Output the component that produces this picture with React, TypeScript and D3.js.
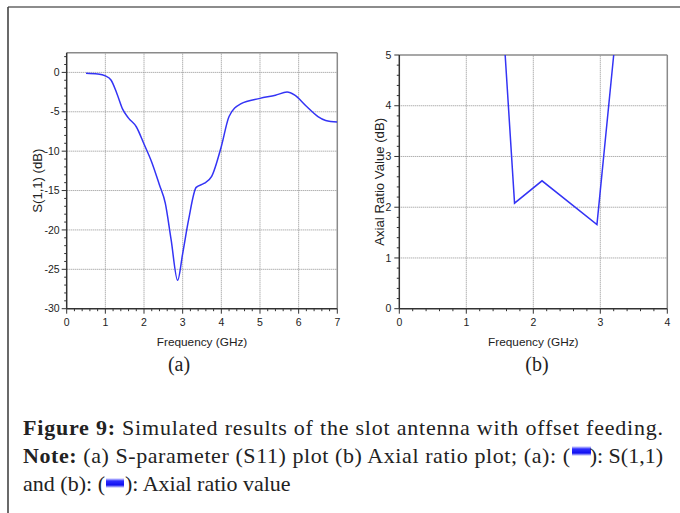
import React from "react";
import * as d3 from "d3";

// ---- Data ----
const s11Freq = [0.5, 0.8, 1.0, 1.15, 1.3, 1.45, 1.6, 1.8, 2.0, 2.2, 2.4, 2.55, 2.7, 2.87, 3.0, 3.15, 3.35, 3.55, 3.75, 4.0, 4.2, 4.5, 5.0, 5.4, 5.7, 5.9, 6.2, 6.5, 6.7, 7.0];
const s11Db = [-0.1, -0.2, -0.45, -1.0, -2.7, -4.7, -5.8, -6.9, -9.1, -11.4, -14.3, -16.6, -21.2, -26.4, -23.0, -18.8, -14.6, -14.1, -13.2, -9.4, -5.6, -4.0, -3.3, -2.9, -2.5, -2.9, -4.3, -5.6, -6.1, -6.3];

const arFreq = [1.58, 1.72, 2.13, 2.95, 3.2];
const arVal = [5.0, 2.08, 2.52, 1.66, 5.0];

const s11XTicks = [0, 1, 2, 3, 4, 5, 6, 7];
const s11YTicks = [-30, -25, -20, -15, -10, -5, 0];
const arXTicks = [0, 1, 2, 3, 4];
const arYTicks = [0, 1, 2, 3, 4, 5];

const LINE = "#3434f5";
const FONT = "'Liberation Sans', Arial, sans-serif";
const SERIF = "'Liberation Serif', 'Times New Roman', serif";

type PanelProps = {
  id: string;
  x: d3.ScaleLinear<number, number>;
  y: d3.ScaleLinear<number, number>;
  xTicks: number[];
  yTicks: number[];
  xMinor: number[];
  yMinor: number[];
  path: string;
  yTitle: string;
  yTitleX: number;
  yTitleLen: number;
  yLabelGap: number;
};

function Panel({ id, x, y, xTicks, yTicks, xMinor, yMinor, path, yTitle, yTitleX, yTitleLen, yLabelGap }: PanelProps) {
  const [x0, x1] = x.range();
  const [y0, y1] = y.range();
  const midX = (x0 + x1) / 2;
  const midY = (y0 + y1) / 2;
  return (
    <g>
      <defs>
        <clipPath id={id}>
          <rect x={x0} y={y1} width={x1 - x0} height={y0 - y1} />
        </clipPath>
      </defs>
      {xTicks.filter((t) => t !== x.domain()[0] && t !== x.domain()[1]).map((t) => (
        <line key={"gx" + t} x1={x(t)} x2={x(t)} y1={y0} y2={y1} stroke="#8f8f8f" strokeWidth={1} strokeDasharray="1,1" />
      ))}
      {yTicks.filter((t) => t !== y.domain()[0] && t !== y.domain()[1]).map((t) => (
        <line key={"gy" + t} x1={x0} x2={x1} y1={y(t)} y2={y(t)} stroke="#8f8f8f" strokeWidth={1} strokeDasharray="1,1" />
      ))}
      <line x1={x0} x2={x1} y1={y1} y2={y1} stroke="#8a8a8a" strokeWidth={1.5} />
      <line x1={x1} x2={x1} y1={y1} y2={y0} stroke="#8a8a8a" strokeWidth={1.5} />
      <path d={path} fill="none" stroke={LINE} strokeWidth={1.5} clipPath={`url(#${id})`} />
      <line x1={x0} x2={x1} y1={y0} y2={y0} stroke="#333" strokeWidth={1.5} />
      <line x1={x0} x2={x0} y1={y0} y2={y1} stroke="#333" strokeWidth={1.5} />
      {xMinor.map((t) => (
        <line key={"mx" + t} x1={x(t)} x2={x(t)} y1={y0} y2={y0 + 2.5} stroke="#333" strokeWidth={1} />
      ))}
      {yMinor.map((t) => (
        <line key={"my" + t} x1={x0} x2={x0 - 2.5} y1={y(t)} y2={y(t)} stroke="#333" strokeWidth={1} />
      ))}
      {xTicks.map((t) => (
        <g key={"tx" + t}>
          <line x1={x(t)} x2={x(t)} y1={y0} y2={y0 + 5} stroke="#333" strokeWidth={1} />
          <text x={x(t)} y={y0 + 17.5} textAnchor="middle" fontFamily={FONT} fontSize={10.5} fill="#222">{t}</text>
        </g>
      ))}
      {yTicks.map((t) => (
        <g key={"ty" + t}>
          <line x1={x0} x2={x0 - 5} y1={y(t)} y2={y(t)} stroke="#333" strokeWidth={1} />
          <text x={x0 - yLabelGap} y={y(t)} dy="0.35em" textAnchor="end" fontFamily={FONT} fontSize={10.5} fill="#222">{t}</text>
        </g>
      ))}
      <text x={midX} y={y0 + 37} textAnchor="middle" fontFamily={FONT} fontSize={11.8} fill="#222">Frequency (GHz)</text>
      <text transform={`translate(${yTitleX},${midY}) rotate(-90)`} textAnchor="middle" dy="0.35em" fontFamily={FONT} fontSize={12.5}
        fill="#222" textLength={yTitleLen} lengthAdjust="spacingAndGlyphs">{yTitle}</text>
    </g>
  );
}

export default function App() {
  const xa = d3.scaleLinear().domain([0, 7]).range([66.7, 337.3]);
  const ya = d3.scaleLinear().domain([-30, 2.5]).range([308.7, 52.7]);
  const xb = d3.scaleLinear().domain([0, 4]).range([399.3, 667.3]);
  const yb = d3.scaleLinear().domain([0, 5]).range([308.7, 55]);

  const lineA = d3.line<number>().x((_, i) => xa(s11Freq[i])).y((d) => ya(d)).curve(d3.curveMonotoneX);
  const lineB = d3.line<number>().x((_, i) => xb(arFreq[i])).y((d) => yb(d));

  const xMinorA = d3.range(0, 7.001, 0.2).map((v) => +v.toFixed(2)).filter((v) => Math.abs(v - Math.round(v)) > 1e-6);
  const yMinorA = d3.range(-30, 2.5, 1).filter((v) => v % 5 !== 0);
  const xMinorB = d3.range(0, 4.001, 0.2).map((v) => +v.toFixed(2)).filter((v) => Math.abs(v - Math.round(v)) > 1e-6);
  const yMinorB = d3.range(0, 5.001, 0.2).map((v) => +v.toFixed(2)).filter((v) => Math.abs(v - Math.round(v)) > 1e-6);

  return (
    <svg width={680} height={513} style={{ position: "absolute", left: 0, top: 0, background: "#fff" }}>
      <rect x={0} y={0} width={680} height={513} fill="#fff" />
      <line x1={8} x2={680} y1={7} y2={7} stroke="#666" strokeWidth={1.6} />
      <line x1={8} x2={8} y1={7} y2={513} stroke="#444" strokeWidth={1.6} />

      <Panel id="clipA" x={xa} y={ya} xTicks={s11XTicks} yTicks={s11YTicks} xMinor={xMinorA} yMinor={yMinorA}
        path={lineA(s11Db) || ""} yTitle="S(1,1) (dB)" yTitleX={38} yTitleLen={64} yLabelGap={7} />
      <Panel id="clipB" x={xb} y={yb} xTicks={arXTicks} yTicks={arYTicks} xMinor={xMinorB} yMinor={yMinorB}
        path={lineB(arVal) || ""} yTitle="Axial Ratio Value (dB)" yTitleX={380} yTitleLen={128} yLabelGap={8} />

      <text x={179} y={371} textAnchor="middle" fontFamily={SERIF} fontSize={20} fill="#222">(a)</text>
      <text x={537} y={371} textAnchor="middle" fontFamily={SERIF} fontSize={20} fill="#222">(b)</text>

      <defs>
        <linearGradient id="sw" x1="0" x2="0" y1="0" y2="1">
          <stop offset="0" stopColor="#ffffff" />
          <stop offset="0.3" stopColor="#2d2dff" />
          <stop offset="0.7" stopColor="#1010f0" />
          <stop offset="1" stopColor="#ffffff" />
        </linearGradient>
      </defs>

      <text x={23} y={435} fontFamily={SERIF} fontSize={22} fill="#222" textLength={640} lengthAdjust="spacing">
        <tspan fontWeight="bold">Figure 9:</tspan> Simulated results of the slot antenna with offset feeding.
      </text>
      <text x={23} y={463} fontFamily={SERIF} fontSize={22} fill="#222" textLength={547} lengthAdjust="spacing">
        <tspan fontWeight="bold">Note:</tspan> (a) S-parameter (S11) plot (b) Axial ratio plot; (a): (
      </text>
      <rect x={572} y={446} width={19} height={10} fill="url(#sw)" />
      <text x={663} y={463} textAnchor="end" fontFamily={SERIF} fontSize={22} fill="#222">): S(1,1)</text>
      <text x={23} y={491} fontFamily={SERIF} fontSize={22} fill="#222" textLength={82} lengthAdjust="spacing">and (b): (</text>
      <rect x={106} y={478} width={18} height={10} fill="url(#sw)" />
      <text x={125} y={491} fontFamily={SERIF} fontSize={22} fill="#222">): Axial ratio value</text>
    </svg>
  );
}
